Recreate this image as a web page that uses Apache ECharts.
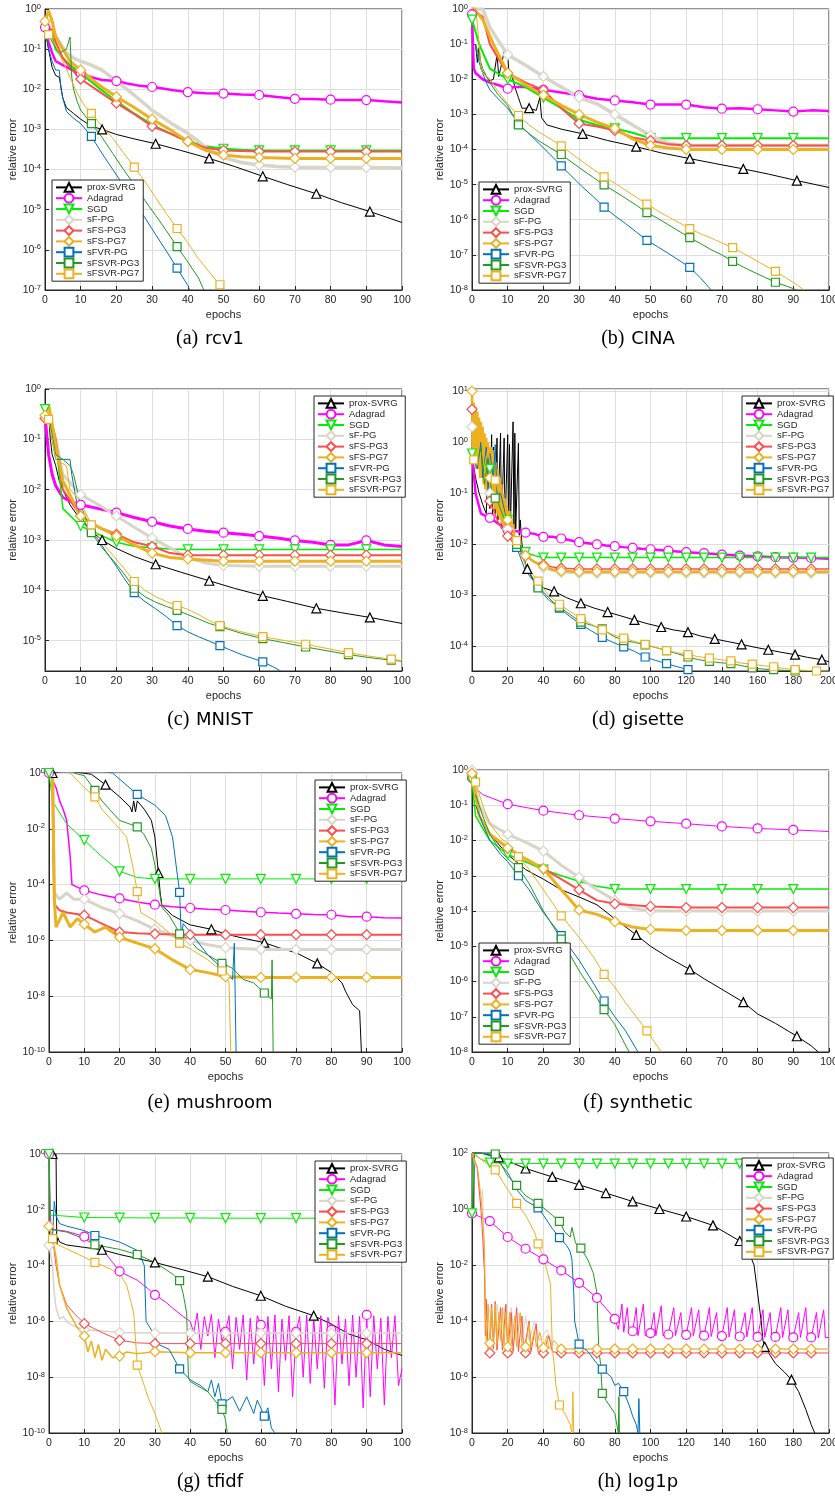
<!DOCTYPE html>
<html>
<head>
<meta charset="utf-8">
<script src="https://cdn.jsdelivr.net/npm/echarts@6/dist/echarts.min.js"></script>
<style>
  html, body { margin: 0; padding: 0; background: #fff; }
  #chart { width: 835px; height: 1500px; }
</style>
</head>
<body>
<div id="chart"></div>
<script>
// method names shared by all eight panels
const methods = ['prox-SVRG', 'Adagrad', 'SGD', 'sF-PG', 'sFS-PG3', 'sFS-PG7', 'sFVR-PG', 'sFSVR-PG3', 'sFSVR-PG7'];

// [epoch, relative error, marker?]
// ---- (a) rcv1
const rcv1ProxSvrg = [[0,0.3],[1,0.1],[2,0.035],[3,0.022],[4,0.02],[5,0.006],[6,0.0035],[8,0.0025],[10,0.0018],[13,0.0012],[16,0.001,1],[20,0.00075],[25,0.00058],[31,0.00044,1],[38,0.0003],[46,0.00019,1],[53,0.00012],[61,0.000068,1],[68,0.000042],[76,0.000025,1],[83,0.000015],[91,0.000009,1],[100,0.0000048]];
const rcv1Adagrad = [[0,0.35,1],[1,0.15],[2,0.08],[3,0.05],[5,0.04],[7,0.032],[10,0.025,1],[13,0.02],[16,0.017],[20,0.016,1],[23,0.014],[26,0.0125],[30,0.0114,1],[33,0.0105],[36,0.0095],[40,0.0085,1],[45,0.008],[50,0.0078,1],[55,0.0074],[60,0.0072,1],[65,0.0064],[70,0.0058,1],[75,0.0057],[80,0.0055,1],[85,0.0054],[90,0.0054,1],[95,0.005],[100,0.0047]];
const rcv1Sgd = [[0,0.4],[2,0.2],[3,0.1],[5,0.06],[7,0.04],[10,0.025],[15,0.011],[20,0.005],[25,0.0025],[30,0.0013],[35,0.0008],[40,0.0005],[45,0.00038],[50,0.00033,1],[55,0.00031],[60,0.0003,1],[70,0.0003,1],[80,0.0003,1],[90,0.0003,1],[100,0.0003]];
const rcv1SfPg = [[0,0.5],[2,0.3],[4,0.15],[6,0.08],[8,0.06],[10,0.05],[13,0.04],[16,0.03],[20,0.016],[23,0.01],[26,0.006],[30,0.003],[33,0.002],[36,0.0013],[40,0.0008],[43,0.0005],[46,0.0003],[50,0.0002],[55,0.00015],[60,0.00013,1],[65,0.00012],[70,0.000115,1],[80,0.000113,1],[90,0.000112,1],[100,0.00011]];
const rcv1SfsPg3 = [[0,0.35],[2,0.3],[3,0.15],[5,0.06],[7,0.035],[10,0.018,1],[15,0.009],[20,0.0045,1],[25,0.0024],[30,0.0012,1],[35,0.0008],[40,0.0005,1],[45,0.00035],[50,0.0003,1],[55,0.00029],[60,0.00028,1],[70,0.00028,1],[80,0.00028,1],[90,0.00028,1],[100,0.00028]];
const rcv1SfsPg7 = [[0,0.49,1],[1,0.9],[2,0.5],[3,0.2],[5,0.1],[7,0.05],[10,0.03,1],[15,0.013],[20,0.0065,1],[25,0.0035],[30,0.0018,1],[35,0.001],[40,0.0005,1],[45,0.0003],[50,0.00023,1],[55,0.00021],[60,0.0002,1],[70,0.00019,1],[80,0.00019,1],[90,0.00019,1],[100,0.00019]];
const rcv1SfvrPg = [[0,0.4],[1,0.1],[2,0.05],[3,0.03],[4,0.03],[4.5,0.01],[5,0.006],[6,0.0028],[8,0.0019],[10,0.0014],[13,0.00067,1],[16,0.00025],[19,0.0001],[22,0.00004],[25,0.000016,1],[28,0.0000063],[31,0.0000024],[34,0.00000093],[37,0.00000035,1],[40,0.00000013],[40.5,0.0000001]];
const rcv1SfsvrPg3 = [[0,0.35],[2,0.15],[4,0.08],[6,0.1],[7,0.2],[7.5,0.02],[8,0.01],[9,0.005],[10,0.003],[13,0.0014,1],[16,0.00063],[19,0.00025],[22,0.0001],[25,0.000042,1],[28,0.000017],[31,0.0000072],[34,0.000003],[37,0.0000012,1],[40,0.0000005],[43,0.0000002],[44.5,0.0000001]];
const rcv1SfsvrPg7 = [[1,0.23,1],[3,0.12],[5,0.05],[7,0.02],[9,0.008],[11,0.004],[13,0.0025,1],[16,0.0012],[19,0.0006],[22,0.00026],[25,0.000115,1],[28,0.00005],[31,0.00002],[34,0.000008],[37,0.0000034,1],[40,0.0000015],[43,0.0000006],[46,0.00000028],[49,0.000000135,1],[50,0.0000001]];

// ---- (b) CINA
const cinaProxSvrg = [[1,0.1],[1.5,0.03],[2,0.08],[2.5,0.02],[3,0.016],[4,0.012],[5,0.009],[6,0.01],[7,0.05],[7.5,0.012],[8,0.02],[9,0.06],[10,0.05],[10.5,0.01],[11,0.015],[12,0.006],[13,0.003],[14,0.0015],[16,0.0015,1],[18,0.0013],[19,0.003],[19.5,0.0008],[21,0.0005],[25,0.00038],[31,0.00028,1],[38,0.00018],[46,0.00012,1],[53,0.00008],[61,0.000055,1],[68,0.00004],[76,0.000028,1],[83,0.00002],[91,0.000013,1],[100,0.0000083]];
const cinaAdagrad = [[0,0.7,1],[0.5,0.02],[1,0.015],[3,0.01],[5,0.008],[8,0.0065],[10,0.0054,1],[12,0.006],[15,0.006],[20,0.005,1],[25,0.0042],[30,0.0035,1],[35,0.0028],[40,0.0025,1],[45,0.0022],[50,0.0019,1],[55,0.0019],[60,0.0019,1],[65,0.0016],[70,0.00145,1],[75,0.0015],[80,0.0014,1],[85,0.0013],[90,0.0012,1],[95,0.0013],[100,0.00125]];
const cinaSgd = [[0,0.5,1],[2,0.1],[5,0.02],[10,0.01,1],[15,0.006],[20,0.003,1],[25,0.0015],[30,0.0007,1],[35,0.0005],[40,0.0004,1],[45,0.0003],[50,0.00021,1],[60,0.00021,1],[70,0.00021,1],[80,0.00021,1],[90,0.00021,1],[100,0.00021]];
const cinaSfPg = [[0,1],[3,1],[5,0.3],[8,0.1],[10,0.05,1],[15,0.025],[20,0.012,1],[25,0.006],[30,0.003,1],[35,0.002],[40,0.001,1],[45,0.0005],[50,0.00025,1],[55,0.00015],[60,0.00013,1],[70,0.00013,1],[80,0.00013,1],[90,0.00013,1],[100,0.00013]];
const cinaSfsPg3 = [[0,1],[3,0.6],[5,0.1],[8,0.03],[10,0.015,1],[15,0.008],[20,0.005,1],[25,0.0015],[30,0.00055,1],[35,0.00045],[40,0.00035,1],[45,0.00022],[50,0.00018,1],[55,0.00014],[60,0.00013,1],[70,0.00013,1],[80,0.00013,1],[90,0.00013,1],[100,0.00013]];
const cinaSfsPg7 = [[0,1.2],[3,0.5],[6,0.1],[10,0.015,1],[15,0.007],[20,0.0035,1],[25,0.0018],[30,0.001,1],[35,0.0006],[40,0.0004,1],[45,0.0002],[50,0.00013,1],[55,0.00011],[60,0.0001,1],[70,0.0001,1],[80,0.0001,1],[90,0.0001,1],[100,0.0001]];
const cinaSfvrPg = [[1,0.08],[2,0.03],[3,0.015],[4,0.008],[5,0.005],[7,0.003],[10,0.0015],[13,0.00055,1],[16,0.00028],[19,0.00014],[22,0.00007],[25,0.000034,1],[28,0.000017],[31,0.0000085],[34,0.0000045],[37,0.0000023,1],[40,0.0000013],[43,0.00000078],[46,0.00000045],[49,0.00000026,1],[52,0.00000017],[55,0.00000011],[58,0.00000007],[61,0.000000044,1],[64,0.000000022],[67,0.00000001]];
const cinaSfsvrPg3 = [[1,0.1],[3,0.02],[5,0.008],[7,0.004],[10,0.0018],[13,0.0005,1],[16,0.00028],[19,0.00017],[22,0.00011],[25,0.000072,1],[28,0.000043],[31,0.000026],[34,0.000016],[37,0.0000098,1],[40,0.0000064],[43,0.0000041],[46,0.0000026],[49,0.0000016,1],[52,0.0000011],[55,0.00000072],[58,0.00000047],[61,0.00000031,1],[64,0.00000021],[67,0.00000014],[70,0.0000001],[73,0.000000065,1],[76,0.000000045],[79,0.000000032],[82,0.000000023],[85,0.0000000166,1],[88,0.000000013],[91,0.00000001]];
const cinaSfsvrPg7 = [[1,1.2],[2,0.1],[2.5,0.02],[3,0.015],[5,0.01],[7,0.005],[10,0.002],[13,0.00093,1],[16,0.0005],[19,0.0003],[22,0.0002],[25,0.000126,1],[28,0.000075],[31,0.000045],[34,0.000027],[37,0.0000166,1],[40,0.000011],[43,0.0000069],[46,0.0000044],[49,0.0000028,1],[52,0.0000018],[55,0.0000012],[58,0.00000082],[61,0.00000056,1],[64,0.0000004],[67,0.0000003],[70,0.00000022],[73,0.00000016,1],[76,0.00000011],[79,0.000000075],[82,0.00000005],[85,0.000000034,1],[88,0.000000022],[91,0.000000014],[93,0.00000001]];

// ---- (c) MNIST
const mnistProxSvrg = [[0.5,0.3],[1,0.33],[1.5,0.1],[2,0.05],[3,0.03],[4,0.015],[5,0.01],[7,0.005],[10,0.0025],[13,0.0015],[16,0.001,1],[20,0.00068],[25,0.00047],[31,0.00033,1],[38,0.00023],[46,0.000155,1],[53,0.00011],[61,0.000078,1],[68,0.00006],[76,0.000044,1],[83,0.000036],[91,0.000029,1],[100,0.000022]];
const mnistAdagrad = [[0,0.3],[1,0.05],[2,0.02],[3,0.012],[5,0.007],[8,0.0055],[10,0.005,1],[15,0.0042],[20,0.0035,1],[25,0.0028],[30,0.0023,1],[35,0.0019],[40,0.00166,1],[45,0.0015],[50,0.0014,1],[55,0.0013],[60,0.0012,1],[65,0.0011],[70,0.00098,1],[75,0.0009],[80,0.0008,1],[85,0.0008],[90,0.00098,1],[95,0.0008],[100,0.00074]];
const mnistSgd = [[0,0.4,1],[2,0.2],[3,0.1],[4,0.02],[5,0.0042],[10,0.0019,1],[15,0.0013],[20,0.0009,1],[25,0.00075],[30,0.0007,1],[35,0.00066],[40,0.00065,1],[50,0.00065,1],[60,0.00065,1],[70,0.00065,1],[80,0.00065,1],[90,0.00065,1],[100,0.00065]];
const mnistSfPg = [[0,0.5],[3,0.1],[5,0.02],[10,0.008,1],[15,0.005],[20,0.003,1],[25,0.0018],[30,0.0011,1],[35,0.0007],[40,0.00045,1],[45,0.00035],[50,0.00031,1],[60,0.0003,1],[70,0.0003,1],[80,0.0003,1],[90,0.0003,1],[100,0.0003]];
const mnistSfsPg3 = [[0,0.26,1],[2,0.2],[3,0.1],[5,0.01],[10,0.003,1],[15,0.0018],[20,0.0013,1],[25,0.0009],[30,0.00075,1],[35,0.00055],[40,0.0005,1],[50,0.0005,1],[60,0.0005,1],[70,0.0005,1],[80,0.0005,1],[90,0.0005,1],[100,0.0005]];
const mnistSfsPg7 = [[0,0.3,1],[1,0.5],[2,0.2],[3,0.08],[5,0.015],[10,0.003,1],[15,0.0018],[20,0.0012,1],[25,0.0008],[30,0.00055,1],[35,0.00045],[40,0.00042,1],[50,0.00038,1],[60,0.00038,1],[70,0.00038,1],[80,0.00038,1],[90,0.00038,1],[100,0.00038]];
const mnistSfvrPg = [[1,0.3],[2,0.1],[3,0.04],[5,0.04],[7,0.04],[7.5,0.02],[9,0.005],[10,0.003],[12,0.0018],[13,0.0015,1],[15,0.001],[17,0.0006],[20,0.0003],[22,0.00018],[25,0.00009,1],[28,0.00006],[31,0.000043],[34,0.00003],[37,0.00002,1],[40,0.000015],[43,0.000012],[46,0.0000098],[49,0.000008,1],[52,0.0000065],[55,0.0000053],[58,0.0000045],[61,0.0000038,1],[64,0.000003],[66,0.0000025]];
const mnistSfsvrPg3 = [[1,0.3],[3,0.05],[5,0.04],[7,0.03],[8,0.02],[9,0.01],[10,0.005],[13,0.0014,1],[16,0.0007],[19,0.0004],[22,0.00022],[25,0.00011,1],[28,0.000075],[31,0.000058],[34,0.000048],[37,0.00004,1],[40,0.000033],[43,0.000027],[46,0.000022],[49,0.000019,1],[55,0.000014],[61,0.000011,1],[67,0.0000091],[73,0.0000075,1],[79,0.0000063],[85,0.0000053,1],[91,0.0000046],[97,0.0000041,1],[100,0.0000039]];
const mnistSfsvrPg7 = [[1,0.25,1],[3,0.04],[6,0.03],[7,0.01],[9,0.007],[11,0.004],[13,0.002,1],[16,0.0009],[19,0.0005],[22,0.00028],[25,0.00015,1],[28,0.0001],[31,0.000075],[34,0.00006],[37,0.00005,1],[40,0.000042],[43,0.000033],[46,0.000025],[49,0.00002,1],[55,0.000015],[61,0.000012,1],[67,0.0000101],[73,0.0000085,1],[79,0.000007],[85,0.0000058,1],[91,0.0000049],[97,0.0000043,1],[100,0.000004]];

// ---- (d) gisette
const gisetteProxSvrg = [[0,0.5],[2,0.2],[4,0.1],[6,0.06],[8,0.04],[9,0.4],[10,0.05],[11,1.4],[11.5,0.03],[12,0.8],[13,0.04],[14,1.2],[14.5,0.03],[16,1.5],[16.5,0.02],[18,1.2],[18.5,0.02],[20,1.4],[20.5,0.025],[21,0.9],[21.5,0.02],[23,2.5],[23.5,0.02],[24,1.5],[24.5,0.02],[26,0.95],[26.5,0.015],[27,0.03],[28,0.01],[30,0.004],[31,0.0033,1],[35,0.0018],[40,0.0014],[46,0.0012,1],[53,0.0009],[61,0.0007,1],[68,0.00057],[76,0.00047,1],[83,0.0004],[91,0.00033,1],[98,0.00028],[106,0.00024,1],[113,0.00021],[121,0.00019,1],[128,0.00016],[136,0.00014,1],[143,0.000125],[151,0.00011,1],[158,0.000097],[166,0.000086,1],[173,0.000077],[181,0.000069,1],[188,0.000061],[196,0.000055,1],[200,0.00005]];
const gisetteAdagrad = [[0,0.6],[2,0.1],[5,0.04],[10,0.033,1],[15,0.025],[20,0.019,1],[25,0.018],[30,0.017,1],[35,0.016],[40,0.014,1],[45,0.014],[50,0.013,1],[55,0.012],[60,0.011,1],[65,0.0105],[70,0.01,1],[75,0.0095],[80,0.0092,1],[85,0.0088],[90,0.0085,1],[95,0.0082],[100,0.008,1],[110,0.0075,1],[120,0.007,1],[130,0.0067,1],[140,0.0063,1],[150,0.006,1],[160,0.0058,1],[170,0.0056,1],[180,0.0055,1],[190,0.0054,1],[200,0.0052]];
const gisetteSgd = [[0,0.6,1],[3,0.8],[5,1.2],[8,0.5],[10,0.3,1],[15,0.08],[20,0.03,1],[25,0.012],[30,0.007,1],[35,0.006],[40,0.0055,1],[50,0.0055,1],[60,0.0055,1],[70,0.0055,1],[80,0.0055,1],[90,0.0055,1],[100,0.0055,1],[110,0.0055,1],[120,0.0055,1],[130,0.0055,1],[140,0.0055,1],[150,0.0055,1],[160,0.0055,1],[170,0.0055,1],[180,0.0055,1],[190,0.0055,1],[200,0.0055]];
const gisetteSfPg = [[0,2,1],[3,0.3],[5,0.5],[10,0.1,1],[15,0.04],[20,0.02,1],[25,0.01],[30,0.006,1],[35,0.0045],[40,0.0035,1],[45,0.003],[50,0.0028,1],[60,0.0027,1],[70,0.0027,1],[80,0.0027,1],[90,0.0027,1],[100,0.0027,1],[110,0.0027,1],[120,0.0027,1],[130,0.0027,1],[140,0.0027,1],[150,0.0027,1],[160,0.0027,1],[170,0.0027,1],[180,0.0027,1],[190,0.0027,1],[200,0.0027]];
const gisetteSfsPg3 = [[0,4.4,1],[2,2],[5,0.5],[10,0.07,1],[15,0.025],[20,0.0145,1],[25,0.009],[30,0.006,1],[35,0.0045],[40,0.004,1],[45,0.0036],[50,0.0034,1],[60,0.0033,1],[70,0.0033,1],[80,0.0033,1],[90,0.0033,1],[100,0.0033,1],[110,0.0033,1],[120,0.0033,1],[130,0.0033,1],[140,0.0033,1],[150,0.0033,1],[160,0.0033,1],[170,0.0033,1],[180,0.0033,1],[190,0.0033,1],[200,0.0033]];
const gisetteSfsPg7 = [[0,10,1],[0.5,0.5],[1,6],[1.5,0.4],[2,5],[2.5,0.3],[3,4],[3.5,0.3],[4,3],[4.5,0.2],[5,2.5],[5.5,0.2],[6,2],[6.5,0.15],[7,1.5],[7.5,0.12],[8,1.2],[8.5,0.1],[9,1],[9.5,0.08],[10,0.2,1],[10.5,0.8],[11,0.07],[11.5,0.7],[12,0.06],[12.5,0.6],[13,0.05],[13.5,0.4],[14,0.04],[14.5,0.3],[15,0.035],[15.5,0.2],[16,0.03],[16.5,0.15],[17,0.025],[17.5,0.1],[18,0.02],[18.5,0.08],[19,0.018],[19.5,0.06],[20,0.03,1],[21,0.045],[21.5,0.015],[22,0.035],[22.5,0.012],[23,0.025],[24,0.01],[25,0.012],[30,0.006,1],[35,0.0045],[40,0.0038,1],[45,0.0032],[50,0.003,1],[60,0.0029,1],[70,0.0029,1],[80,0.0029,1],[90,0.0029,1],[100,0.0029,1],[110,0.0029,1],[120,0.0029,1],[130,0.0029,1],[140,0.0029,1],[150,0.0029,1],[160,0.0029,1],[170,0.0029,1],[180,0.0029,1],[190,0.0029,1],[200,0.0029]];
const gisetteSfvrPg = [[0,0.5],[3,0.3],[5,1],[6,0.2],[8,0.8],[9,0.1],[10,0.6],[12,0.2],[13,0.9],[14,0.1],[16,0.1],[18,0.05],[20,0.02],[25,0.0087,1],[30,0.003],[37,0.0015,1],[43,0.0009],[49,0.00056,1],[55,0.00038],[61,0.00027,1],[67,0.0002],[73,0.00015,1],[79,0.00012],[85,0.000098,1],[91,0.00008],[97,0.000062,1],[103,0.000053],[109,0.000046,1],[115,0.00004],[121,0.000035,1],[122,0.000033]];
const gisetteSfsvrPg3 = [[0,0.5],[3,0.4],[5,0.8],[7,0.15],[9,0.5],[11,0.1],[13,0.08,1],[15,0.06],[20,0.02],[25,0.01,1],[30,0.004],[37,0.0014,1],[43,0.0008],[49,0.00059,1],[55,0.00042],[61,0.0003,1],[67,0.00026],[73,0.00022,1],[79,0.00016],[85,0.00013,1],[91,0.00012],[97,0.000107,1],[103,0.000095],[109,0.000083,1],[115,0.000072],[121,0.000062,1],[127,0.000055],[133,0.000051,1],[139,0.000048],[145,0.000046,1],[151,0.000042],[157,0.000038,1],[163,0.000036],[169,0.000035,1],[175,0.000034],[181,0.000033,1],[187,0.000032],[193,0.000032,1],[200,0.000031]];
const gisetteSfsvrPg7 = [[1,0.45,1],[3,0.8],[5,1.5],[7,0.3],[9,0.8],[11,0.2],[13,0.18,1],[15,0.1],[18,0.04],[21,0.02],[25,0.0118,1],[30,0.004],[37,0.0019,1],[43,0.001],[49,0.00067,1],[55,0.00048],[61,0.00035,1],[67,0.00027],[73,0.00021,1],[79,0.00017],[85,0.000145,1],[91,0.000125],[97,0.00011,1],[103,0.000095],[109,0.000083,1],[115,0.000075],[121,0.000069,1],[127,0.000063],[133,0.000059,1],[139,0.000055],[145,0.000052,1],[151,0.000047],[157,0.000045,1],[163,0.000042],[169,0.00004,1],[175,0.000037],[181,0.000035,1],[187,0.000034],[193,0.000033,1],[200,0.000032]];

// ---- (e) mushroom
const mushroomProxSvrg = [[1,1,1],[5,1.2],[12,0.9],[16,0.38,1],[20,0.14],[23,0.06],[23.5,0.04],[24,0.1],[24.5,0.04],[25,0.1],[27,0.05],[29,0.02],[30,0.005],[31,0.00026,1],[31.5,0.00005],[32,0.000018],[35,0.0000078],[40,0.0000036],[46,0.0000025,1],[50,0.0000017],[55,0.0000012],[61,0.00000083,1],[65,0.00000055],[70,0.00000036],[76,0.00000015,1],[80,0.00000007],[83,0.00000003],[84,0.000000015],[86,0.000000005],[88,0.000000003],[88.5,0.0000000001]];
const mushroomAdagrad = [[0,1,1],[2,0.3],[3,0.1],[4,0.05],[5,0.02],[6,0.001],[6.5,0.0001],[7,0.000085],[10,0.000062,1],[15,0.000042],[20,0.000032,1],[25,0.000024],[30,0.000019,1],[35,0.000016],[40,0.0000145,1],[45,0.000013],[50,0.0000123,1],[55,0.0000112],[60,0.0000102,1],[65,0.0000095],[70,0.000009,1],[75,0.0000085],[80,0.0000083,1],[85,0.000007],[90,0.0000071,1],[95,0.0000065],[100,0.0000063]];
const mushroomSgd = [[0,1,1],[1,0.1],[2,0.06],[5,0.015],[10,0.0039,1],[15,0.001],[20,0.0003,1],[25,0.00018],[30,0.00016,1],[40,0.00016,1],[50,0.00016,1],[60,0.00016,1],[70,0.00016,1],[80,0.00016,1],[90,0.00016,1],[100,0.00016]];
const mushroomSfPg = [[1,1],[1.5,0.00005],[3,0.00003],[5,0.00005],[7,0.00003],[10,0.00003,1],[15,0.000015],[20,0.000009,1],[25,0.000005],[30,0.0000025,1],[35,0.0000015],[40,0.000001,1],[45,0.0000007],[50,0.00000055,1],[60,0.00000047,1],[70,0.00000047,1],[80,0.00000047,1],[90,0.00000047,1],[100,0.00000047]];
const mushroomSfsPg3 = [[1,1],[1.5,0.00002],[3,0.000012],[5,0.00001],[10,0.000008,1],[15,0.000004],[20,0.000002,1],[25,0.0000018],[30,0.0000017,1],[40,0.0000016,1],[50,0.0000016,1],[60,0.0000016,1],[70,0.0000016,1],[80,0.0000016,1],[90,0.0000016,1],[100,0.0000016]];
const mushroomSfsPg7 = [[1,1],[1.5,0.00003],[2,0.000003],[4,0.00001],[6,0.000003],[8,0.000006],[10,0.0000038,1],[13,0.000002],[16,0.000003],[20,0.0000013,1],[25,0.0000008],[30,0.0000005,1],[35,0.0000002],[40,0.00000009,1],[45,0.00000007],[50,0.00000005,1],[60,0.000000047,1],[70,0.000000047,1],[80,0.000000047,1],[90,0.000000047,1],[100,0.000000047]];
const mushroomSfvrPg = [[8,1.5],[18,1.0],[25,0.17,1],[28,0.1],[30,0.07],[33,0.03],[35,0.005],[36,0.0005],[37,0.000053,1],[37.5,0.000001],[38,0.000004],[40,0.000002],[45,0.0000003],[49,0.0000001,1],[50,0.00000007],[52,0.00000004],[52.5,0.0000008],[53,0.0000000001]];
const mushroomSfsvrPg3 = [[7,1],[10,0.8],[13,0.24,1],[15,0.1],[20,0.02],[25,0.0118,1],[27,0.006],[29,0.002],[30,0.0005],[31,0.0001],[32,0.000015],[34,0.000008],[36,0.000003],[37,0.0000017,1],[40,0.000001],[42,0.0000005],[45,0.0000003],[49,0.00000015,1],[52,0.0000001],[55,0.00000004],[58,0.00000003],[61,0.000000013,1],[63,0.000000008],[63.2,0.0000002],[63.5,0.0000000001]];
const mushroomSfsvrPg7 = [[6,1],[10,0.3],[13,0.14,1],[15,0.05],[20,0.01],[22,0.005],[24,0.0003],[25,0.000056,1],[26,0.00001],[30,0.000005],[35,0.0000015],[37,0.0000008,1],[40,0.0000005],[45,0.0000002],[49,0.00000008,1],[51,0.00000003],[51.5,0.0000000001]];

// ---- (f) synthetic
const syntheticProxSvrg = [[0,0.7],[1,0.15],[2,0.05],[3,0.03],[5,0.015],[10,0.004],[15,0.0015],[20,0.0008],[25,0.0004],[30,0.00025],[35,0.00015],[40,0.00006],[46,0.000021,1],[50,0.00001],[55,0.0000048],[61,0.0000022,1],[65,0.0000012],[70,0.0000006],[76,0.00000026,1],[80,0.00000012],[85,0.000000065],[91,0.000000028,1],[95,0.000000015],[97,0.00000001]];
const syntheticAdagrad = [[0,0.6,1],[1,0.3],[3,0.2],[10,0.107,1],[20,0.07,1],[30,0.052,1],[40,0.042,1],[50,0.035,1],[60,0.03,1],[70,0.025,1],[80,0.022,1],[90,0.02,1],[100,0.018]];
const syntheticSgd = [[0,0.5,1],[1,0.05],[5,0.01],[10,0.004,1],[15,0.0025],[20,0.0015,1],[25,0.001],[30,0.0007,1],[35,0.0005],[40,0.00042,1],[50,0.00042,1],[60,0.00042,1],[70,0.00042,1],[80,0.00042,1],[90,0.00042,1],[100,0.00042]];
const syntheticSfPg = [[0,1,1],[2,0.1],[5,0.03],[10,0.015,1],[15,0.009],[20,0.005,1],[25,0.002],[30,0.0009,1],[35,0.0004],[40,0.0002,1],[45,0.00012],[50,0.0001,1],[60,0.0001,1],[70,0.0001,1],[80,0.0001,1],[90,0.0001,1],[100,0.0001]];
const syntheticSfsPg3 = [[0,0.8,1],[2,0.05],[5,0.015],[10,0.006,1],[15,0.003],[20,0.0016,1],[25,0.0008],[30,0.0004,1],[35,0.0002],[40,0.00016,1],[50,0.000135,1],[60,0.000125,1],[70,0.000125,1],[80,0.000125,1],[90,0.000125,1],[100,0.000125]];
const syntheticSfsPg7 = [[0,0.8,1],[2,0.05],[5,0.015],[10,0.0062,1],[15,0.003],[20,0.0016,1],[25,0.0004],[30,0.000107,1],[35,0.00008],[40,0.00005,1],[45,0.000035],[50,0.00003,1],[60,0.000028,1],[70,0.000028,1],[80,0.000028,1],[90,0.000028,1],[100,0.000028]];
const syntheticSfvrPg = [[1,0.1],[3,0.03],[5,0.01],[8,0.004],[10,0.0025],[13,0.001,1],[16,0.0004],[20,0.00009],[25,0.00002,1],[30,0.000004],[34,0.0000009],[37,0.00000028,1],[40,0.0000001],[43,0.00000004],[46.5,0.00000001]];
const syntheticSfsvrPg3 = [[1,0.2],[3,0.05],[5,0.015],[8,0.005],[10,0.003],[13,0.0017,1],[16,0.0006],[20,0.0001],[25,0.000016,1],[30,0.000002],[34,0.0000005],[37,0.00000016,1],[40,0.00000006],[44,0.00000001]];
const syntheticSfsvrPg7 = [[1,0.45,1],[3,0.1],[5,0.03],[8,0.012],[10,0.008],[13,0.0035,1],[16,0.0015],[20,0.0004],[25,0.000073,1],[30,0.000018],[34,0.000005],[37,0.0000016,1],[40,0.0000007],[43,0.00000025],[46,0.0000001],[49,0.00000004,1],[51,0.00000002],[53,0.00000001]];

// ---- (g) tfidf
const tfidfProxSvrg = [[1,1,1],[2,1],[2.2,0.0006],[2.5,0.001],[3,0.0007],[5,0.00055],[10,0.00045],[15,0.00037,1],[20,0.00025],[25,0.00018],[30,0.00013,1],[38,0.00007],[45,0.00004,1],[52,0.000018],[60,0.0000083,1],[67,0.0000035],[75,0.0000016,1],[80,0.0000008],[85,0.00000035],[90,0.00000022],[95,0.0000001],[100,0.00000006]];
const tfidfAdagrad = [[0,1,1],[0.5,0.003],[1,0.002],[5,0.0017],[10,0.0011,1],[15,0.0004],[18,0.00013],[20,0.000062,1],[25,0.00003],[28,0.000015],[30,0.000009,1],[33,0.000005],[35,0.000003],[38,0.0000015],[40,0.000001],[41,0.0000004],[42,0.000002],[43,0.0000001],[44,0.0000015],[45,0.0000003],[46,0.0000018],[47,0.00000005],[48,0.0000012],[49,0.0000002],[50,0.00000042,1],[51,0.0000016],[52,0.00000002],[53,0.0000014],[54,0.0000001],[55,0.0000017],[56,0.000000008],[57,0.0000013],[58,0.00000003],[59,0.0000016],[60,0.00000075,1],[61,0.000000005],[62,0.0000015],[63,0.00000002],[64,0.0000017],[65,0.000000003],[66,0.0000012],[67,0.00000004],[68,0.0000016],[69,0.000000002],[70,0.00000042,1],[71,0.0000015],[72,0.00000001],[73,0.0000017],[74,0.000000006],[75,0.0000013],[76,0.00000002],[77,0.0000016],[78,0.000000004],[79,0.0000014],[80,0.0000005,1],[81,0.000000001],[82,0.0000016],[83,0.00000003],[84,0.0000012],[85,0.000000005],[86,0.0000017],[87,0.00000001],[88,0.0000015],[89,0.0000000008],[90,0.0000017,1],[91,0.000000002],[92,0.0000016],[93,0.00000002],[94,0.0000013],[95,0.000000001],[96,0.0000015],[97,0.00000005],[98,0.0000016],[99,0.000000005],[100,0.00000002]];
const tfidfSgd = [[0,1,1],[0.3,0.0065],[10,0.0053,1],[20,0.0052,1],[30,0.0051,1],[40,0.0051,1],[50,0.005,1],[60,0.005,1],[70,0.005,1],[80,0.005,1],[90,0.005,1],[100,0.0048]];
const tfidfSfPg = [[0,0.00053,1],[1,0.0001],[1.5,0.00001],[2,0.000003],[3,0.0000012],[4,0.0000015],[5,0.000001],[6,0.0000008],[8,0.0000006],[10,0.0000005,1],[15,0.00000045],[20,0.0000004,1],[30,0.00000038,1],[40,0.00000038,1],[50,0.00000038,1],[60,0.00000038,1],[70,0.00000038,1],[80,0.00000038,1],[90,0.00000038,1],[100,0.00000038]];
const tfidfSfsPg3 = [[0,0.0026],[1,0.001],[2,0.0001],[3,0.00002],[5,0.000004],[7,0.000002],[10,0.00000083,1],[15,0.0000004],[20,0.00000021,1],[25,0.00000017],[30,0.00000016,1],[40,0.00000016,1],[50,0.00000016,1],[60,0.00000016,1],[70,0.00000016,1],[80,0.00000016,1],[90,0.00000016,1],[100,0.00000016]];
const tfidfSfsPg7 = [[0,0.0026,1],[1,0.001],[2,0.0002],[3,0.00002],[5,0.000003],[8,0.0000006],[10,0.0000003,1],[11,0.00000008],[12,0.0000002],[13,0.00000005],[14,0.00000015],[15,0.00000004],[16,0.0000001],[18,0.00000005],[20,0.000000057,1],[22,0.00000008],[25,0.00000007],[30,0.000000082,1],[40,0.000000075,1],[50,0.000000075,1],[60,0.000000075,1],[70,0.000000075,1],[80,0.000000075,1],[90,0.000000075,1],[100,0.000000075]];
const tfidfSfvrPg = [[1,0.001],[1.5,0.02],[2,0.006],[3,0.0032],[5,0.0026],[10,0.0018],[13,0.0012,1],[17,0.0009],[20,0.0007],[25,0.00035],[26,0.0002],[27,0.0001],[27.5,0.000001],[28,0.0000008],[30,0.0000003],[31,0.00000015],[34,0.0000001],[37,0.00000002,1],[40,0.000000008],[43,0.000000005],[45,0.000000003],[46,0.000000008],[47,0.000000002],[48,0.000000006],[49,0.0000000011,1],[52,0.000000002],[54,0.0000000006],[56,0.000000002],[58,0.0000000005],[59,0.0000000015],[61,0.0000000004,1],[62,0.0000000008],[63,0.00000000015],[64,0.0000000001]];
const tfidfSfsvrPg3 = [[0,1],[0.2,0.002],[5,0.0016],[10,0.0009],[13,0.00056,1],[20,0.00038],[25,0.00025,1],[30,0.00013],[35,0.00005],[37,0.000029,1],[38,0.00001],[39,0.000002],[39.5,0.00000001],[40,0.000000007],[45,0.000000003],[49,0.0000000007,1],[50,0.0000000003],[50.5,0.0000000001]];
const tfidfSfsvrPg7 = [[1,0.00093,1],[2,0.0006],[5,0.0004],[10,0.0002],[13,0.00013,1],[17,0.00008],[20,0.00005],[22,0.00002],[24,0.000002],[25,0.000000027,1],[27,0.000000005],[28,0.000000002],[30,0.0000000005],[32,0.0000000001]];

// ---- (h) log1p
const log1pProxSvrg = [[0,0.8],[1,1.0],[1.2,100],[5,100],[15,70,1],[30,28,1],[45,14,1],[60,7.3,1],[75,3.7,1],[90,1.86,1],[105,1.0,1],[120,0.54,1],[135,0.26,1],[150,0.072,1],[155,0.03],[158,0.01],[160,0.001],[162,0.0001],[163,0.00002],[164,0.000012,1],[167,0.000006],[170,0.000003],[175,0.0000015],[179,0.0000008,1],[183,0.0000003],[187,0.00000007],[190,0.00000002],[192,0.00000001]];
const log1pAdagrad = [[0,0.7,1],[10,0.37,1],[20,0.1,1],[30,0.038,1],[40,0.016,1],[50,0.0064,1],[60,0.0023,1],[70,0.00067,1],[80,0.00012,1],[82,0.00005],[84,0.0004],[85,0.00004],[87,0.0003],[88,0.00004],[90,0.000043,1],[92,0.0003],[93,0.00003],[96,0.0004],[97,0.00003],[100,0.000037,1],[102,0.0002],[103,0.00003],[106,0.00035],[107,0.00003],[110,0.000033,1],[113,0.0003],[114,0.00003],[117,0.0002],[118,0.00003],[120,0.000032,1],[123,0.0003],[124,0.00003],[127,0.00025],[128,0.00003],[130,0.00003,1],[133,0.0003],[134,0.000028],[137,0.0002],[138,0.000028],[140,0.000029,1],[143,0.0003],[144,0.000027],[147,0.00025],[148,0.000027],[150,0.000028,1],[153,0.0002],[154,0.000027],[157,0.0003],[158,0.000026],[160,0.000027,1],[163,0.00025],[164,0.000026],[167,0.0002],[168,0.000026],[170,0.000027,1],[173,0.0003],[174,0.000026],[177,0.00025],[178,0.000026],[180,0.000026,1],[183,0.0002],[184,0.000026],[187,0.0003],[188,0.000025],[190,0.000026,1],[193,0.0002],[194,0.000025],[197,0.00025],[198,0.000025],[200,0.000026]];
const log1pSgd = [[0,0.7,1],[0.5,100],[5,60],[10,45,1],[20,42,1],[30,42,1],[40,42,1],[50,42,1],[60,42,1],[70,42,1],[80,42,1],[90,42,1],[100,42,1],[110,42,1],[120,42,1],[130,42,1],[140,42,1],[150,42,1],[160,42,1],[170,42,1],[180,42,1],[190,42,1],[200,42]];
const log1pSfPg = [[0,100],[3,20],[5,1],[6,5],[6.5,0.1],[7,0.01],[8,0.0001],[10,0.0003],[12,0.00002],[14,0.0004],[16,0.00003],[18,0.0003],[20,0.00002],[22,0.0003],[24,0.00002],[26,0.0002],[28,0.00002],[30,0.00015],[32,0.00002],[35,0.0001],[38,0.00002],[42,0.00005],[45,0.000015],[50,0.00001],[60,0.00001,1],[80,0.00001,1],[100,0.00001,1],[120,0.00001,1],[140,0.00001,1],[160,0.00001,1],[180,0.00001,1],[200,0.00001]];
const log1pSfsPg3 = [[0,100],[3,30],[5,1],[6,0.1],[7,0.005],[7.5,0.00003],[8,0.0006],[9,0.00001],[10,0.0000072,1],[11,0.0004],[12,0.00001],[13,0.0005],[14,0.000009],[16,0.0003],[17,0.000009],[19,0.0004],[20,0.0000072,1],[22,0.0002],[23,0.000008],[25,0.0003],[26,0.000008],[28,0.00015],[29,0.000008],[30,0.0000072,1],[32,0.0001],[33,0.000008],[36,0.00008],[37,0.000008],[40,0.0000072,1],[43,0.00003],[45,0.000008],[50,0.0000072,1],[60,0.0000072,1],[70,0.0000072,1],[80,0.0000072,1],[90,0.0000072,1],[100,0.0000072,1],[110,0.0000072,1],[120,0.0000072,1],[130,0.0000072,1],[140,0.0000072,1],[150,0.0000072,1],[160,0.0000072,1],[170,0.0000072,1],[180,0.0000072,1],[190,0.0000072,1],[200,0.0000072]];
const log1pSfsPg7 = [[0,100],[3,30],[5,3],[6,0.5],[7,0.05],[7.5,0.0002],[8,0.00002],[9,0.0004],[10,0.000016,1],[11,0.0003],[12,0.00002],[13,0.0004],[14,0.000015],[15,0.0002],[16,0.00002],[17,0.0003],[18,0.000015],[19,0.0002],[20,0.000012,1],[21,0.0002],[22,0.000015],[24,0.00015],[25,0.000012],[27,0.0002],[28,0.000012],[30,0.000012,1],[32,0.00008],[33,0.000012],[35,0.00005],[36,0.000012],[38,0.00004],[40,0.000011,1],[42,0.00003],[43,0.00001],[46,0.00002],[50,0.00001,1],[60,0.00001,1],[70,0.00001,1],[80,0.00001,1],[90,0.00001,1],[100,0.00001,1],[110,0.00001,1],[120,0.00001,1],[130,0.00001,1],[140,0.00001,1],[150,0.00001,1],[160,0.00001,1],[170,0.00001,1],[180,0.00001,1],[190,0.00001,1],[200,0.00001]];
const log1pSfvrPg = [[0,100],[5,100],[13,70],[20,20],[25,5],[30,2],[37,1.1,1],[40,0.6],[45,0.2],[49,0.095,1],[53,0.05],[55,0.03],[56,0.015],[57,0.001],[57.5,0.0001],[60,0.000015,1],[65,0.000008],[70,0.000003],[73,0.0000019,1],[78,0.000001],[80,0.0000005],[82,0.0000006],[85,0.0000003,1],[88,0.0000001],[90,0.00000004],[92,0.00000002],[93,0.00000001],[93.5,0.00000017],[94,0.00000001]];
const log1pSfsvrPg3 = [[0,100],[13,92,1],[20,15],[25,7,1],[30,3],[37,1.6,1],[45,0.6],[49,0.36,1],[52,0.15],[55,0.1],[56,0.22],[58,0.06],[61,0.04,1],[65,0.015],[68,0.005],[70,0.001],[71,0.00001],[72,0.000003],[73,0.00000026,1],[75,0.00000015],[80,0.00000005],[82,0.00000001],[82.3,0.0000002],[82.6,0.00000001]];
const log1pSfsvrPg7 = [[0,100],[5,60],[13,25,1],[20,5],[25,1.6,1],[30,0.6],[35,0.15],[37,0.057,1],[40,0.02],[44,0.002],[45,0.00001],[46,0.000003],[47,0.0000005],[49,0.0000001,1],[52,0.00000005],[55,0.00000002],[56,0.00000001],[56.5,0.0000003],[57,0.00000001]];

// ---- styling (one per method)
var INK = '#262626';
var FONT = '"Liberation Sans", Arial, Helvetica, sans-serif';
var methodColors = ['#000000', '#ff00ff', '#00ee00', '#d8d4c8', '#ff4c4c', '#edb120', '#0072bd', '#229922', '#edb120'];
var methodSymbols = ['triangle', 'circle', 'triangle', 'diamond', 'diamond', 'diamond', 'rect', 'rect', 'rect'];
var methodRotate = [0, 0, 180, 0, 0, 0, 0, 0, 0];
var methodSizes = [9, 9, 9, 10, 10, 10, 8, 8, 8];

// yStep null -> let the log axis pick whole decades itself (min is not a decade there)
var panels = [
  { tag: '(a)', title: 'rcv1', grid: [45, 9, 357, 281], xMax: 100, xStep: 10, yMin: 1e-7, yMax: 1, yStep: 1, nameGap: 23,
    legend: [52, 180], caption: [210, 339],
    lines: [rcv1ProxSvrg, rcv1Adagrad, rcv1Sgd, rcv1SfPg, rcv1SfsPg3, rcv1SfsPg7, rcv1SfvrPg, rcv1SfsvrPg3, rcv1SfsvrPg7],
    widths: [1, 2.5, 2, 3.5, 2, 3, 1, 1, 1] },
  { tag: '(b)', title: 'CINA', grid: [472, 9, 357, 281], xMax: 100, xStep: 10, yMin: 1e-8, yMax: 1, yStep: 1, nameGap: 23,
    legend: [479, 182], caption: [638, 339],
    lines: [cinaProxSvrg, cinaAdagrad, cinaSgd, cinaSfPg, cinaSfsPg3, cinaSfsPg7, cinaSfvrPg, cinaSfsvrPg3, cinaSfsvrPg7],
    widths: [1, 2.5, 2, 3.5, 2, 3, 1, 1, 1] },
  { tag: '(c)', title: 'MNIST', grid: [45, 389, 357, 282], xMax: 100, xStep: 10, yMin: 2.5e-6, yMax: 1, yStep: null, nameGap: 23,
    legend: [314, 396], caption: [210, 720],
    lines: [mnistProxSvrg, mnistAdagrad, mnistSgd, mnistSfPg, mnistSfsPg3, mnistSfsPg7, mnistSfvrPg, mnistSfsvrPg3, mnistSfsvrPg7],
    widths: [1, 3, 1.5, 3, 2, 3, 1, 1, 1] },
  { tag: '(d)', title: 'gisette', grid: [472, 389, 357, 282], xMax: 200, xStep: 20, yMin: 3.3e-5, yMax: 11, yStep: null, nameGap: 23,
    legend: [742, 396], caption: [638, 720],
    lines: [gisetteProxSvrg, gisetteAdagrad, gisetteSgd, gisetteSfPg, gisetteSfsPg3, gisetteSfsPg7, gisetteSfvrPg, gisetteSfsvrPg3, gisetteSfsvrPg7],
    widths: [1, 2.5, 1.5, 2, 1.5, 2.5, 1, 1, 1] },
  { tag: '(e)', title: 'mushroom', grid: [49, 773, 353, 279], xMax: 100, xStep: 10, yMin: 1e-10, yMax: 1, yStep: 2, nameGap: 27,
    legend: [315, 780], caption: [210, 1103],
    lines: [mushroomProxSvrg, mushroomAdagrad, mushroomSgd, mushroomSfPg, mushroomSfsPg3, mushroomSfsPg7, mushroomSfvrPg, mushroomSfsvrPg3, mushroomSfsvrPg7],
    widths: [1, 1.5, 1, 3, 2, 3, 1, 1, 1] },
  { tag: '(f)', title: 'synthetic', grid: [472, 770, 357, 282], xMax: 100, xStep: 10, yMin: 1e-8, yMax: 1, yStep: 1, nameGap: 23,
    legend: [479, 943], caption: [638, 1103],
    lines: [syntheticProxSvrg, syntheticAdagrad, syntheticSgd, syntheticSfPg, syntheticSfsPg3, syntheticSfsPg7, syntheticSfvrPg, syntheticSfsvrPg3, syntheticSfsvrPg7],
    widths: [1, 1, 1.5, 3, 2, 3, 1, 1, 1] },
  { tag: '(g)', title: 'tfidf', grid: [49, 1154, 353, 279], xMax: 100, xStep: 10, yMin: 1e-10, yMax: 1, yStep: 2, nameGap: 27,
    legend: [315, 1161], caption: [210, 1482],
    lines: [tfidfProxSvrg, tfidfAdagrad, tfidfSgd, tfidfSfPg, tfidfSfsPg3, tfidfSfsPg7, tfidfSfvrPg, tfidfSfsvrPg3, tfidfSfsvrPg7],
    widths: [1, 1, 1, 1.5, 1, 1.5, 1, 1, 1] },
  { tag: '(h)', title: 'log1p', grid: [472, 1153, 357, 280], xMax: 200, xStep: 20, yMin: 1e-8, yMax: 100, yStep: 2, nameGap: 23,
    legend: [742, 1158], caption: [638, 1482],
    lines: [log1pProxSvrg, log1pAdagrad, log1pSgd, log1pSfPg, log1pSfsPg3, log1pSfsPg7, log1pSfvrPg, log1pSfsvrPg3, log1pSfsvrPg7],
    widths: [1, 1, 1, 1, 1, 1, 1, 1, 1] }
];

function seriesData(points) {
  return points.map(function (p) {
    return p[2] ? [p[0], p[1]] : { value: [p[0], p[1]], symbol: 'none' };
  });
}

function decadeLabel(v) {
  var e = Math.log10(v), r = Math.round(e);
  if (Math.abs(e - r) > 1e-6) return '';
  return '{b|10}{s|' + r + '}';
}

var option = {
  animation: false,
  backgroundColor: '#fff',
  textStyle: { fontFamily: FONT },
  grid: [], xAxis: [], yAxis: [], series: [], legend: [], graphic: []
};

panels.forEach(function (p, i) {
  option.grid.push({
    left: p.grid[0], top: p.grid[1], width: p.grid[2], height: p.grid[3],
    show: true, borderColor: INK, borderWidth: 1, backgroundColor: '#fff',
    containLabel: false, outerBoundsMode: 'none'
  });
  option.xAxis.push({
    type: 'value', gridIndex: i, min: 0, max: p.xMax, interval: p.xStep,
    name: 'epochs', nameLocation: 'middle', nameGap: 19,
    nameTextStyle: { fontSize: 11, color: INK, fontFamily: FONT },
    axisLine: { show: true, lineStyle: { color: INK, width: 1 } },
    axisTick: { show: true, inside: true, length: 4, lineStyle: { color: INK } },
    axisLabel: { fontSize: 10.5, color: INK, margin: 5, fontFamily: FONT },
    splitLine: { show: true, lineStyle: { color: '#dedede', width: 1 } }
  });
  var yAxis = {
    type: 'log', logBase: 10, gridIndex: i, min: p.yMin, max: p.yMax,
    name: 'relative error', nameLocation: 'middle', nameGap: p.nameGap, nameRotate: 90,
    nameTextStyle: { fontSize: 11, color: INK, fontFamily: FONT },
    axisLine: { show: true, lineStyle: { color: INK, width: 1 } },
    axisTick: { show: true, inside: true, length: 4, lineStyle: { color: INK } },
    axisLabel: {
      margin: 4, color: INK, fontFamily: FONT, formatter: decadeLabel,
      rich: {
        b: { fontSize: 10.5, lineHeight: 13, color: INK, fontFamily: FONT },
        s: { fontSize: 7.5, lineHeight: 7, verticalAlign: 'top', color: INK, fontFamily: FONT }
      }
    },
    splitLine: { show: true, lineStyle: { color: '#dedede', width: 1 } },
    minorTick: { show: false }, minorSplitLine: { show: false }
  };
  if (p.yStep) yAxis.interval = p.yStep;
  option.yAxis.push(yAxis);
  p.lines.forEach(function (pts, k) {
    option.series.push({
      type: 'line', name: methods[k], xAxisIndex: i, yAxisIndex: i,
      data: seriesData(pts),
      symbol: methodSymbols[k], symbolRotate: methodRotate[k], symbolSize: methodSizes[k],
      showAllSymbol: true, silent: true, clip: true,
      lineStyle: { color: methodColors[k], width: p.widths[k] },
      itemStyle: { color: '#fff', borderColor: methodColors[k], borderWidth: 1.2 },
      emphasis: { disabled: true }
    });
  });
  option.legend.push({
    data: methods, orient: 'vertical', left: p.legend[0], top: p.legend[1],
    itemWidth: 26, itemHeight: 11, itemGap: 0, padding: [2, 4, 2, 3],
    backgroundColor: '#fff', borderColor: INK, borderWidth: 1, borderRadius: 0,
    textStyle: { fontSize: 9.5, color: INK, fontFamily: FONT },
    selectedMode: false, z: 20
  });
  option.graphic.push({
    type: 'text', x: p.caption[0], y: p.caption[1], z: 30,
    style: {
      text: '{p|' + p.tag + '}  {n|' + p.title + '}',
      rich: {
        p: { fontFamily: '"Liberation Serif", "DejaVu Serif", serif', fontSize: 20, fill: '#000' },
        n: { fontFamily: '"DejaVu Sans", sans-serif', fontSize: 18, fill: '#000' }
      },
      align: 'center', verticalAlign: 'middle', fill: '#000'
    }
  });
});

var chart = echarts.init(document.getElementById('chart'), null, { renderer: 'canvas' });
chart.setOption(option);
</script>
</body>
</html>
